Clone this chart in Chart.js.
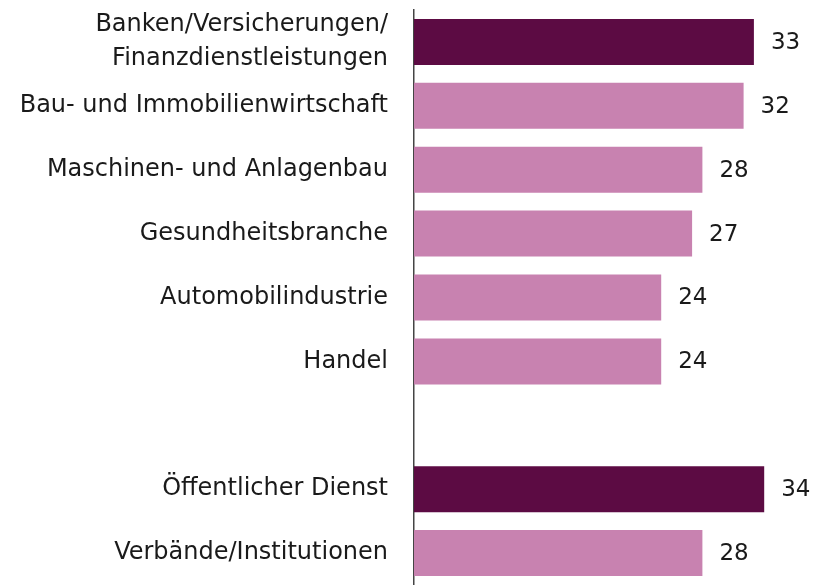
<!DOCTYPE html>
<html>
<head>
<meta charset="utf-8">
<script src="https://cdn.jsdelivr.net/npm/chart.js@4"></script>
<style>
  html, body { margin: 0; padding: 0; background: #fff; }
  #wrap { width: 830px; height: 585px; }
</style>
</head>
<body>
<div id="wrap"><canvas id="myChart"></canvas></div>
<script>
var categories = [
    ['Banken/Versicherungen/', 'Finanzdienstleistungen'],
    'Bau- und Immobilienwirtschaft',
    'Maschinen- und Anlagenbau',
    'Gesundheitsbranche',
    'Automobilindustrie',
    'Handel',
    '',
    'Öffentlicher Dienst',
    'Verbände/Institutionen'
];
var values = [33, 32, 28, 27, 24, 24, null, 34, 28];
var highlighted = [true, false, false, false, false, false, false, true, false];

var darkColor = '#5c0b43';
var lightColor = '#c882b0';

// numbers to the right of the bars
var valueLabels = {
    id: 'valueLabels',
    afterDatasetsDraw: function (chart) {
        var ctx = chart.ctx;
        var meta = chart.getDatasetMeta(0);
        ctx.save();
        ctx.font = '23px "DejaVu Sans"';
        ctx.fillStyle = '#1a1a1a';
        ctx.textAlign = 'left';
        ctx.textBaseline = 'middle';
        meta.data.forEach(function (bar, i) {
            if (values[i] == null) return;
            ctx.fillText(values[i], bar.x + 17, bar.y + 1);
        });
        ctx.restore();
    }
};

var ctx = document.getElementById('myChart').getContext('2d');

var myChart = new Chart(ctx, {
    type: 'bar',
    data: {
        labels: categories,
        datasets: [{
            data: values,
            backgroundColor: highlighted.map(function (h) { return h ? darkColor : lightColor; }),
            borderWidth: 0,
            categoryPercentage: 0.72,
            barPercentage: 1
        }]
    },
    options: {
        indexAxis: 'y',
        responsive: true,
        maintainAspectRatio: false,
        animation: false,
        layout: { padding: { top: 10, right: 4, bottom: 0, left: 0 } },
        scales: {
            x: {
                min: 0,
                max: 40,
                display: false
            },
            y: {
                afterFit: function (scale) {
                    scale.width = 414;
                    scale.paddingTop = 0;
                    scale.paddingBottom = 0;
                },
                grid: { display: false, drawTicks: false },
                border: { display: true, color: '#444444', width: 1.5 },
                ticks: {
                    autoSkip: false,
                    padding: 26,
                    color: '#1a1a1a',
                    font: { family: 'DejaVu Sans', size: 24, lineHeight: 1.4 }
                }
            }
        },
        plugins: {
            legend: { display: false },
            tooltip: { enabled: false }
        }
    },
    plugins: [valueLabels]
});
</script>
</body>
</html>
